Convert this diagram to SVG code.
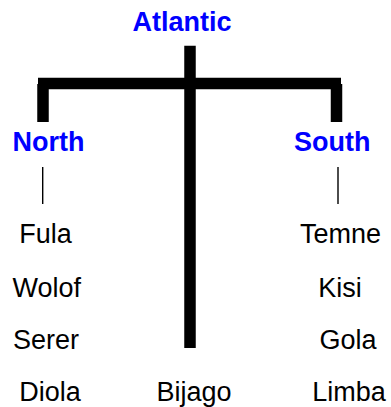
<svg xmlns="http://www.w3.org/2000/svg" width="391" height="407" viewBox="0 0 391 407">
<style>
.grp{font-family:"Liberation Sans",Arial,sans-serif;font-weight:bold;font-size:27px;fill:#0000ff;text-anchor:middle}
.lang{font-family:"Liberation Sans",Arial,sans-serif;font-size:27px;fill:#000;text-anchor:middle}
.thick{stroke:#000;stroke-width:11.5;fill:none;stroke-linecap:butt}
.thin{stroke:#000;stroke-width:1.4;fill:none}
</style>
<rect width="391" height="407" fill="#fff"/>
<g id="connectors">
<line class="thick" x1="190" y1="45.7" x2="190" y2="348"/>
<line class="thick" x1="38" y1="83.5" x2="341" y2="83.5"/>
<line class="thick" x1="43" y1="84" x2="43" y2="122"/>
<line class="thick" x1="336.5" y1="84" x2="336.5" y2="122"/>
<line class="thin" x1="42.7" y1="167" x2="42.7" y2="204"/>
<line class="thin" x1="338" y1="167" x2="338" y2="204"/>
</g>
<g id="atlantic"><text class="grp" x="182" y="30.7">Atlantic</text></g>
<g id="north"><text class="grp" x="48.5" y="150.7">North</text></g>
<g id="south"><text class="grp" x="332.2" y="150.7">South</text></g>
<g id="fula"><text class="lang" x="45.5" y="242.5">Fula</text></g>
<g id="wolof"><text class="lang" x="46.7" y="296.5">Wolof</text></g>
<g id="serer"><text class="lang" x="46" y="348.8">Serer</text></g>
<g id="diola"><text class="lang" x="50" y="401">Diola</text></g>
<g id="bijago"><text class="lang" x="194" y="401">Bijago</text></g>
<g id="temne"><text class="lang" x="340.5" y="242.5">Temne</text></g>
<g id="kisi"><text class="lang" x="340" y="296.5">Kisi</text></g>
<g id="gola"><text class="lang" x="348" y="348.8">Gola</text></g>
<g id="limba"><text class="lang" x="349" y="401">Limba</text></g>
</svg>
